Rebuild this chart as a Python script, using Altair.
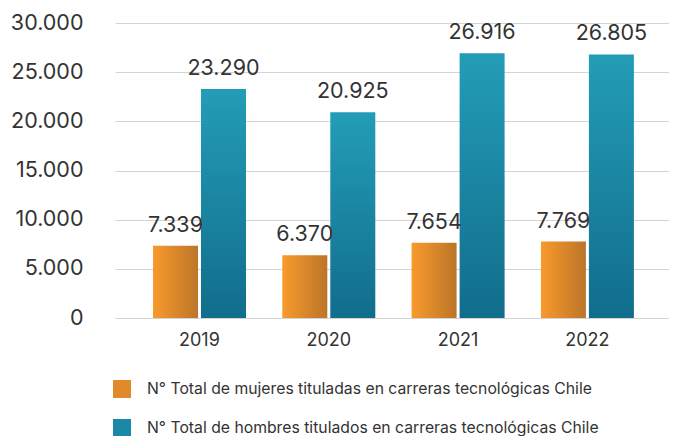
import altair as alt
import pandas as pd

years = ["2019", "2020", "2021", "2022"]
mujeres = [7339, 6370, 7654, 7769]
hombres = [23290, 20925, 26916, 26805]
serie_m = "N° Total de mujeres tituladas en carreras tecnológicas Chile"
serie_h = "N° Total de hombres titulados en carreras tecnológicas Chile"
y_ticks = [0, 5000, 10000, 15000, 20000, 25000, 30000]

rows = []
for i, yr in enumerate(years):
    rows.append({"year": yr, "serie": serie_m, "valor": mujeres[i]})
    rows.append({"year": yr, "serie": serie_h, "valor": hombres[i]})
df = pd.DataFrame(rows)

FONT = "Inter"
TXT = "#333333"

orange_grad = alt.LinearGradient(
    gradient="linear",
    stops=[alt.GradientStop(color="#F89A2C", offset=0), alt.GradientStop(color="#BC7529", offset=1)],
    x1=0, x2=1, y1=0, y2=0,
)
teal_grad = alt.LinearGradient(
    gradient="linear",
    stops=[alt.GradientStop(color="#239DB7", offset=0), alt.GradientStop(color="#116D8C", offset=1)],
    x1=0, x2=0, y1=0, y2=1,
)

legend_fill_expr = (
    "datum.index === 0 ? "
    "{gradient: 'linear', x1: 0, y1: 0, x2: 1, y2: 0, stops: [{offset: 0, color: '#F89A2C'}, {offset: 1, color: '#BC7529'}]} : "
    "{gradient: 'linear', x1: 0, y1: 0, x2: 1, y2: 0, stops: [{offset: 0, color: '#239DB7'}, {offset: 1, color: '#116D8C'}]}"
)

x_enc = alt.X(
    "year:N",
    sort=years,
    scale=alt.Scale(paddingInner=0, paddingOuter=0.1423, align=0.538),
    axis=alt.Axis(title=None, labelAngle=0, domain=False, ticks=False, labelPadding=13,
                  labelFontSize=18, labelColor=TXT, labelFont=FONT),
)
xo_enc = alt.XOffset(
    "serie:N",
    sort=[serie_m, serie_h],
    scale=alt.Scale(domain=[serie_m, serie_h], range=[18.2, 111.2], paddingInner=0.0625, paddingOuter=0),
)
y_enc = alt.Y(
    "valor:Q",
    scale=alt.Scale(domain=[0, 30000]),
    axis=alt.Axis(title=None, values=y_ticks, domain=False, ticks=False, labelPadding=32,
                  labelFontSize=21.5, labelColor=TXT, labelFont=FONT,
                  gridColor="#d4d4d4", gridWidth=1,
                  labelExpr="replace(format(datum.value, ',d'), ',', '.')"),
)

base = alt.Chart(df).encode(x=x_enc, xOffset=xo_enc, y=y_enc)

bars_m = base.transform_filter(alt.datum.serie == serie_m).mark_bar(color=orange_grad)
bars_h = base.transform_filter(alt.datum.serie == serie_h).mark_bar(color=teal_grad)

labels = base.transform_calculate(
    lbl="replace(format(datum.valor, ',d'), ',', '.')"
).mark_text(dy=-14, baseline="alphabetic", fontSize=21.5, font=FONT, color=TXT).encode(text="lbl:N")

legend_layer = base.mark_square(size=324, opacity=0).encode(
    color=alt.Color(
        "serie:N",
        scale=alt.Scale(domain=[serie_m, serie_h], range=["#E08A2C", "#1A88A6"]),
        legend=alt.Legend(
            title=None, orient="none", legendX=-2, legendY=357, direction="vertical",
            symbolType="square", symbolSize=324, symbolOpacity=1, symbolStrokeWidth=0,
            symbolFillColor={"expr": legend_fill_expr},
            labelFontSize=15.75, labelFont=FONT, labelColor=TXT, labelOffset=16,
            labelLimit=700, rowPadding=21,
        ),
    )
)

chart = alt.layer(bars_m, bars_h, labels, legend_layer).properties(
    width=554, height=295,
    autosize=alt.AutoSizeParams(type="none"),
    padding={"left": 107, "top": 15, "right": 0, "bottom": 118},
).configure_view(stroke=None)

chart.save("out.html", embed_options={"renderer": "svg", "actions": False})
